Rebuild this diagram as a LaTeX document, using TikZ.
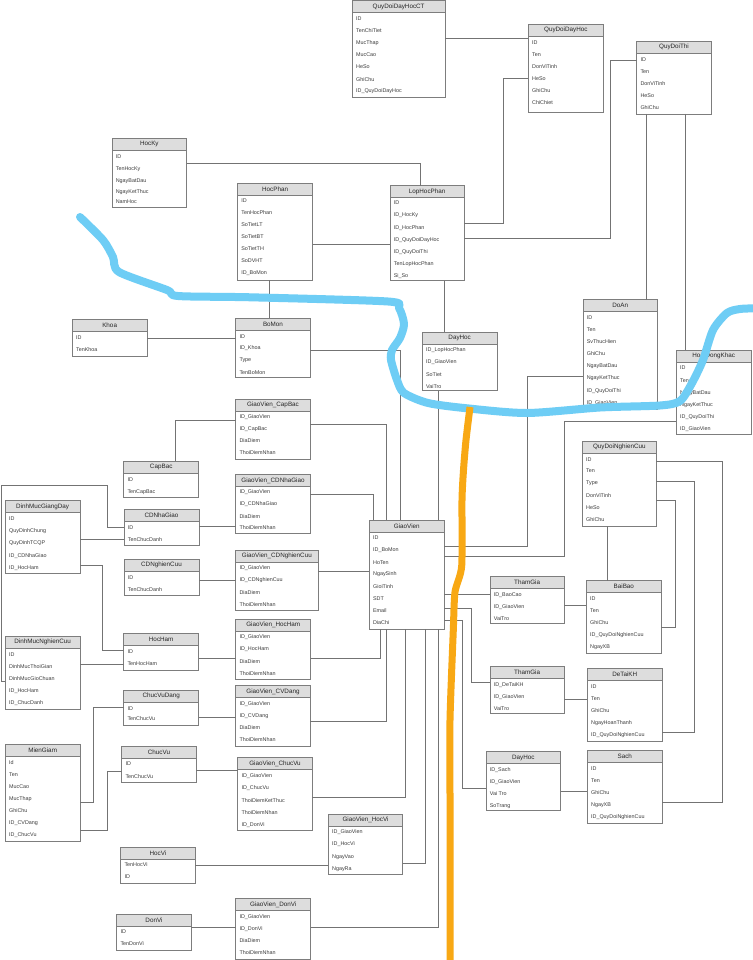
\documentclass[tikz,border=0pt]{standalone}
\usepackage{fontspec}
\setmainfont{Liberation Sans}
\definecolor{bordergray}{RGB}{125,125,125}
\definecolor{headgray}{RGB}{221,221,221}
\definecolor{linegray}{RGB}{115,115,115}
\definecolor{txtgray}{RGB}{60,60,60}
\definecolor{hlblue}{RGB}{110,205,245}
\definecolor{hlorange}{RGB}{248,168,20}
\newcommand\ertable[7]{%
  \node[tbox, minimum width=#4pt, minimum height=#5pt, anchor=north west] (#1) at (#2,#3) {};
  \node[thead, minimum width=#4pt, anchor=north] (#1-head) at (#1.north) {#6};
  \foreach \fldy/\fldt [count=\fldi] in {#7} {\node[tfield, anchor=west] (#1-f\fldi) at (#2+3.8,\fldy) {\fldt};}
}
\begin{document}
\begin{tikzpicture}[x=1pt,y=-1pt,
  tbox/.style={draw=bordergray, fill=white, line width=0.8pt, inner sep=0pt, outer sep=0pt},
  thead/.style={draw=bordergray, fill=headgray, line width=0.8pt, inner sep=0pt, outer sep=0pt, minimum height=12pt, font=\fontsize{6.3}{7}\selectfont, text=black!85},
  tfield/.style={inner sep=0pt, outer sep=0pt, font=\fontsize{5.4}{6}\selectfont, text=txtgray},
  conn/.style={draw=linegray, line width=0.8pt},
  hlb/.style={draw=hlblue, line width=8pt, line cap=round, line join=round},
  hlo/.style={draw=hlorange, line width=7pt, line cap=butt, line join=round}]
\useasboundingbox (0,0) rectangle (752,960);
\fill[white] (0,0) rectangle (752,960);

% ---------- tables ----------
\ertable{QDDHCT}{352.3}{0.5}{92.7}{96.5}{QuyDoiDayHocCT}{18.3/ID,30.3/TenChiTiet,43/MucThap,55/MucCao,67/HeSo,79.3/GhiChu,91.3/ID\_QuyDoiDayHoc}
\ertable{QDDH}{528.3}{24}{75}{88.3}{QuyDoiDayHoc}{42.3/ID,54.3/Ten,66.3/DonViTinh,78.7/HeSo,90.7/GhiChu,102.7/ChiChiet}
\ertable{QDThi}{636.7}{41.3}{74.6}{72.7}{QuyDoiThi}{59.3/ID,71.3/Ten,84/DonViTinh,96/HeSo,107.7/GhiChu}
\ertable{HocKy}{112}{138.3}{74.7}{69}{HocKy}{156.3/ID,169.3/TenHocKy,181.3/NgayBatDau,191.7/NgayKetThuc,201.7/NamHoc}
\ertable{HocPhan}{237.5}{183.7}{75.2}{96.3}{HocPhan}{201/ID,213/TenHocPhan,225/SoTietLT,237/SoTietBT,249/SoTietTH,261/SoDVHT,273/ID\_BoMon}
\ertable{LopHocPhan}{390}{185.7}{74.3}{94.8}{LopHocPhan}{203/ID,215.7/ID\_HocKy,228/ID\_HocPhan,240/ID\_QuyDoiDayHoc,252.3/ID\_QuyDoiThi,264.3/TenLopHocPhan,276/Si\_So}
\ertable{Khoa}{72.3}{319.3}{74.7}{36.7}{Khoa}{338/ID,350/TenKhoa}
\ertable{BoMon}{235.7}{318}{74.6}{59.7}{BoMon}{336.3/ID,348.3/ID\_Khoa,360.3/Type,372.3/TenBoMon}
\ertable{DayHocA}{422.3}{332}{74.7}{58.7}{DayHoc}{350/ID\_LopHocPhan,362.3/ID\_GiaoVien,374.3/SoTiet,386.3/VaiTro}
\ertable{DoAn}{583}{299.7}{74.3}{110}{DoAn}{317.7/ID,329.7/Ten,342/SvThucHien,354/GhiChu,366.3/NgayBatDau,378.3/NgayKetThuc,390.7/ID\_QuyDoiThi,402.7/ID\_GiaoVien}
\ertable{HDKhac}{676.3}{350.3}{74.7}{84.4}{HoatDongKhac}{367.7/ID,380.3/Ten,392.7/NgayBatDau,404.7/NgayKetThuc,416.7/ID\_QuyDoiThi,429/ID\_GiaoVien}
\ertable{QDNC}{582.3}{441}{74}{85}{QuyDoiNghienCuu}{459.3/ID,471/Ten,483.3/Type,495.7/DonViTinh,508/HeSo,520/GhiChu}
\ertable{GVCapBac}{235.7}{399}{74.6}{60}{GiaoVien\_CapBac}{416.7/ID\_GiaoVien,429/ID\_CapBac,441/DiaDiem,453/ThoiDiemNhan}
\ertable{CapBac}{123.7}{461.3}{75}{36.4}{CapBac}{480/ID,492.3/TenCapBac}
\ertable{GVCDNhaGiao}{235.7}{474.5}{74.6}{59.2}{GiaoVien\_CDNhaGiao}{492.3/ID\_GiaoVien,504.3/ID\_CDNhaGiao,516.3/DiaDiem,528/ThoiDiemNhan}
\ertable{CDNhaGiao}{124}{509.3}{75}{36}{CDNhaGiao}{527.7/ID,540/TenChucDanh}
\ertable{DMGiangDay}{5.3}{500.7}{74.7}{72.6}{DinhMucGiangDay}{519/ID,531.3/QuyDinhChung,543.3/QuyDinhTCQP,555.7/ID\_CDNhaGiao,567.7/ID\_HocHam}
\ertable{CDNghienCuu}{124}{559.3}{75}{36.4}{CDNghienCuu}{577.3/ID,589.7/TenChucDanh}
\ertable{GVCDNghienCuu}{235.7}{550}{82.3}{60.7}{GiaoVien\_CDNghienCuu}{568.3/ID\_GiaoVien,580.3/ID\_CDNghienCuu,592.3/DiaDiem,605/ThoiDiemNhan}
\ertable{GVHocHam}{235.7}{619.3}{75}{60}{GiaoVien\_HocHam}{637/ID\_GiaoVien,649.3/ID\_HocHam,661.3/DiaDiem,673.3/ThoiDiemNhan}
\ertable{HocHam}{123.7}{633.7}{75}{36.3}{HocHam}{652/ID,664/TenHocHam}
\ertable{DMNghienCuu}{5.3}{636.3}{74.7}{73}{DinhMucNghienCuu}{654.7/ID,667/DinhMucThoiGian,679/DinhMucGioChuan,691/ID\_HocHam,703/ID\_ChucDanh}
\ertable{ChucVuDang}{123.7}{690}{75}{35}{ChucVuDang}{708.3/ID,719/TenChucVu}
\ertable{GVCVDang}{235.7}{685.7}{74.6}{60.3}{GiaoVien\_CVDang}{703.7/ID\_GiaoVien,716/ID\_CVDang,728/DiaDiem,740/ThoiDiemNhan}
\ertable{MienGiam}{5.3}{744}{74.7}{97.3}{MienGiam}{762.7/Id,775/Ten,787/MucCao,799.3/MucThap,811/GhiChu,823.3/ID\_CVDang,835.3/ID\_ChucVu}
\ertable{ChucVu}{121.7}{746.3}{74.6}{36}{ChucVu}{764/ID,776.3/TenChucVu}
\ertable{GVChucVu}{237.7}{757.7}{74.6}{72.6}{GiaoVien\_ChucVu}{776/ID\_GiaoVien,788.3/ID\_ChucVu,800.3/ThoiDiemKetThuc,812.3/ThoiDiemNhan,824.7/ID\_DonVi}
\ertable{GVHocVi}{328.3}{814.3}{74.4}{60.4}{GiaoVien\_HocVi}{832.3/ID\_GiaoVien,844.3/ID\_HocVi,856.7/NgayVao,869/NgayRa}
\ertable{HocVi}{120.7}{847}{74.6}{36.3}{HocVi}{865/TenHocVi,877/ID}
\ertable{DonVi}{116.7}{914.3}{74.6}{35.7}{DonVi}{932/ID,944/TenDonVi}
\ertable{GVDonVi}{235.7}{898.7}{75}{60.5}{GiaoVien\_DonVi}{917/ID\_GiaoVien,929/ID\_DonVi,941/DiaDiem,953/ThoiDiemNhan}
\ertable{GiaoVien}{369.3}{520}{75}{109}{GiaoVien}{538/ID,550.3/ID\_BoMon,562.3/HoTen,574.3/NgaySinh,586.7/GioiTinh,598.7/SDT,610.7/Email,623/DiaChi}
\ertable{ThamGiaA}{490}{576.7}{74.3}{46.6}{ThamGia}{595/ID\_BaoCao,607/ID\_GiaoVien,619/VaiTro}
\ertable{BaiBao}{586.3}{580.7}{75}{72.6}{BaiBao}{598.3/ID,610.7/Ten,622.7/GhiChu,635/ID\_QuyDoiNghienCuu,647.3/NgayXB}
\ertable{ThamGiaB}{490}{666.7}{74.3}{46.3}{ThamGia}{684.7/ID\_DeTaiKH,697/ID\_GiaoVien,709/VaiTro}
\ertable{DeTaiKH}{587.3}{668.7}{75}{72.3}{DeTaiKH}{686.7/ID,699/Ten,711/GhiChu,723.3/NgayHoanThanh,735.3/ID\_QuyDoiNghienCuu}
\ertable{DayHocB}{486}{751.7}{74.7}{58.6}{DayHoc}{770/ID\_Sach,782.3/ID\_GiaoVien,794/Vai Tro,806.3/SoTrang}
\ertable{Sach}{587.3}{750.3}{75}{73}{Sach}{768.7/ID,780.7/Ten,793/GhiChu,805/NgayXB,817.3/ID\_QuyDoiNghienCuu}

% ---------- connectors ----------
\draw[conn] (QDDHCT.east |- 0,38) -- (QDDH.west |- 0,38);
\draw[conn] (LopHocPhan.east |- 0,223.3) -- (503,223.3) -- (503,78.7) -- (QDDH.west |- 0,78.7);
\draw[conn] (LopHocPhan.east |- 0,238.5) -- (610.7,238.5) -- (610.7,60.3) -- (QDThi.west |- 0,60.3);
\draw[conn] (646.5,0 |- QDThi.south) -- (646.5,0 |- DoAn.north);
\draw[conn] (685.3,0 |- QDThi.south) -- (685.3,0 |- HDKhac.north);
\draw[conn] (HocKy.east |- 0,163) -- (420,163) -- (420,0 |- LopHocPhan.north);
\draw[conn] (269,0 |- HocPhan.south) -- (269,0 |- BoMon.north);
\draw[conn] (HocPhan.east |- 0,244) -- (LopHocPhan.west |- 0,244);
\draw[conn] (444.7,0 |- LopHocPhan.south) -- (444.7,0 |- DayHocA.north);
\draw[conn] (Khoa.east |- 0,338.3) -- (BoMon.west |- 0,338.3);
\draw[conn] (BoMon.east |- 0,350) -- (400.7,350) -- (400.7,0 |- GiaoVien.north);
\draw[conn] (GVCapBac.east |- 0,424.3) -- (386.7,424.3) -- (386.7,0 |- GiaoVien.north);
\draw[conn] (438.3,0 |- DayHocA.south) -- (438.3,0 |- GiaoVien.north);
\draw[conn] (GVCDNhaGiao.east |- 0,494) -- (373.3,494) -- (373.3,0 |- GiaoVien.north);
\draw[conn] (GVCapBac.west |- 0,420.3) -- (175,420.3) -- (175,0 |- CapBac.north);
\draw[conn] (CDNhaGiao.east |- 0,526) -- (GVCDNhaGiao.west |- 0,526);
\draw[conn] (DMNghienCuu.west |- 0,681) -- (1,681) -- (1,485.3) -- (107.7,485.3) -- (107.7,527.7) -- (CDNhaGiao.west |- 0,527.7);
\draw[conn] (DMGiangDay.east |- 0,539.3) -- (CDNhaGiao.west |- 0,539.3);
\draw[conn] (DMGiangDay.east |- 0,565.3) -- (102.3,565.3) -- (102.3,650) -- (HocHam.west |- 0,650);
\draw[conn] (DMNghienCuu.east |- 0,664) -- (HocHam.west |- 0,664);
\draw[conn] (HocHam.east |- 0,658) -- (GVHocHam.west |- 0,658);
\draw[conn] (CDNghienCuu.east |- 0,580) -- (GVCDNghienCuu.west |- 0,580);
\draw[conn] (GVCDNghienCuu.east |- 0,571.3) -- (GiaoVien.west |- 0,571.3);
\draw[conn] (GVHocHam.east |- 0,658.3) -- (380.7,658.3) -- (380.7,0 |- GiaoVien.south);
\draw[conn] (GVCVDang.east |- 0,721.7) -- (386.7,721.7) -- (386.7,0 |- GiaoVien.south);
\draw[conn] (GVChucVu.east |- 0,797.7) -- (405,797.7) -- (405,0 |- GiaoVien.south);
\draw[conn] (GVHocVi.east |- 0,863.3) -- (425,863.3) -- (425,0 |- GiaoVien.south);
\draw[conn] (GVDonVi.east |- 0,927.3) -- (438.3,927.3) -- (438.3,0 |- GiaoVien.south);
\draw[conn] (HocVi.east |- 0,865.7) -- (GVHocVi.west |- 0,865.7);
\draw[conn] (DonVi.east |- 0,927.3) -- (GVDonVi.west |- 0,927.3);
\draw[conn] (ChucVu.east |- 0,770.3) -- (GVChucVu.west |- 0,770.3);
\draw[conn] (ChucVuDang.east |- 0,717.7) -- (GVCVDang.west |- 0,717.7);
\draw[conn] (MienGiam.east |- 0,802) -- (93.3,802) -- (93.3,707.7) -- (ChucVuDang.west |- 0,707.7);
\draw[conn] (MienGiam.east |- 0,830) -- (107.3,830) -- (107.3,771) -- (ChucVu.west |- 0,771);
\draw[conn] (GiaoVien.east |- 0,546.3) -- (527.5,546.3) -- (527.5,376) -- (DoAn.west |- 0,376);
\draw[conn] (GiaoVien.east |- 0,556) -- (564.3,556) -- (564.3,421) -- (HDKhac.west |- 0,421);
\draw[conn] (GiaoVien.east |- 0,594.3) -- (ThamGiaA.west |- 0,594.3);
\draw[conn] (GiaoVien.east |- 0,608.3) -- (471,608.3) -- (471,682) -- (ThamGiaB.west |- 0,682);
\draw[conn] (GiaoVien.east |- 0,620.7) -- (462.3,620.7) -- (462.3,788.3) -- (DayHocB.west |- 0,788.3);
\draw[conn] (QDNC.east |- 0,461.3) -- (722.3,461.3) -- (722.3,802.7) -- (Sach.east |- 0,802.7);
\draw[conn] (QDNC.east |- 0,481) -- (694.7,481) -- (694.7,732.3) -- (DeTaiKH.east |- 0,732.3);
\draw[conn] (QDNC.east |- 0,500.7) -- (675,500.7) -- (675,627) -- (BaiBao.east |- 0,627);
\draw[conn] (607,0 |- QDNC.south) -- (607,0 |- BaiBao.north);
\draw[conn] (ThamGiaA.east |- 0,605) -- (BaiBao.west |- 0,605);
\draw[conn] (ThamGiaB.east |- 0,699.7) -- (DeTaiKH.west |- 0,699.7);
\draw[conn] (DayHocB.east |- 0,791.7) -- (Sach.west |- 0,791.7);

% ---------- highlight strokes ----------
\draw[hlb] plot[smooth, tension=0.45] coordinates {(80,217) (103,240) (113,257) (119,272) (167,290) (178,296) (251,297.3) (388,301.5) (399,308) (404,324) (400,338) (392,350) (391,360) (397,380) (404,393) (428,403) (467,408.3) (527,413) (600,407.5) (660,405.5) (680,401) (692,383) (703,360) (713,330) (727,313) (740,309) (756,308.3)};
\draw[hlo] plot[smooth, tension=0.4] coordinates {(470,407) (466,440) (463.5,470) (462,500) (461.7,566) (455,592) (453.3,630) (450,720) (450,800) (450,962)};
\end{tikzpicture}
\end{document}
